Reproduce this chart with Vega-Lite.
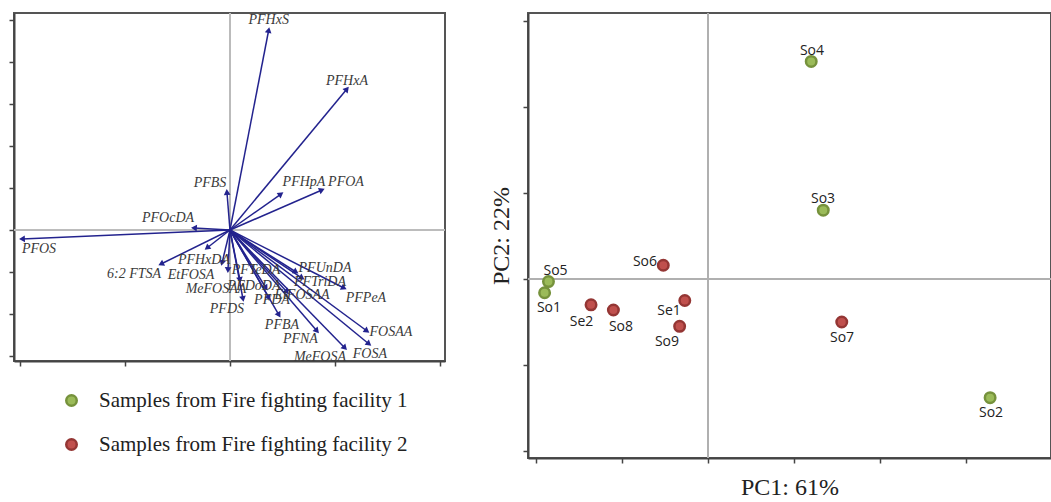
{
  "$schema": "https://vega.github.io/schema/vega-lite/v6.json",
  "background": "white",
  "padding": {"left": 7, "top": 11, "right": 0, "bottom": 0},
  "config": {
    "view": {"stroke": "#555555", "strokeWidth": 2},
    "concat": {"spacing": 41},
    "axis": {"grid": false, "labels": false, "domainColor": "#444444", "domainWidth": 2, "tickColor": "#444444", "tickWidth": 1.5, "tickSize": 5}
  },
  "datasets": {
    "loadings": [
      {"v": "PFHxS", "x": 0.369, "y": 4.762, "lx": 0.369, "ly": 5.0},
      {"v": "PFHxA", "x": 1.114, "y": 3.357, "lx": 1.114, "ly": 3.548},
      {"v": "PFOA", "x": 0.876, "y": 0.952, "lx": 1.105, "ly": 1.143},
      {"v": "PFHpA", "x": 0.486, "y": 0.857, "lx": 0.705, "ly": 1.143},
      {"v": "PFBS", "x": -0.029, "y": 0.905, "lx": -0.19, "ly": 1.119},
      {"v": "PFOcDA", "x": -0.343, "y": 0.048, "lx": -0.59, "ly": 0.286},
      {"v": "PFOS", "x": -1.981, "y": -0.214, "lx": -1.819, "ly": -0.452},
      {"v": "6:2 FTSA", "x": -0.657, "y": -0.81, "lx": -0.914, "ly": -1.048},
      {"v": "PFHxDA", "x": -0.076, "y": -0.786, "lx": -0.248, "ly": -0.714},
      {"v": "EtFOSA", "x": -0.219, "y": -0.429, "lx": -0.371, "ly": -1.071},
      {"v": "MeFOSAA", "x": -0.019, "y": -0.952, "lx": -0.133, "ly": -1.405},
      {"v": "PFTeDA", "x": 0.095, "y": -1.19, "lx": 0.248, "ly": -0.952},
      {"v": "PFDS", "x": 0.124, "y": -1.643, "lx": -0.029, "ly": -1.881},
      {"v": "PFDoDA", "x": 0.343, "y": -1.381, "lx": 0.229, "ly": -1.333},
      {"v": "PFDA", "x": 0.371, "y": -1.619, "lx": 0.4, "ly": -1.667},
      {"v": "EtFOSAA", "x": 0.543, "y": -1.476, "lx": 0.686, "ly": -1.548},
      {"v": "PFBA", "x": 0.467, "y": -2.024, "lx": 0.495, "ly": -2.262},
      {"v": "PFNA", "x": 0.829, "y": -2.405, "lx": 0.671, "ly": -2.595},
      {"v": "MeFOSA", "x": 1.095, "y": -2.81, "lx": 0.857, "ly": -3.024},
      {"v": "FOSA", "x": 1.324, "y": -2.714, "lx": 1.333, "ly": -2.952},
      {"v": "FOSAA", "x": 1.305, "y": -2.405, "lx": 1.533, "ly": -2.429},
      {"v": "PFPeA", "x": 1.086, "y": -1.381, "lx": 1.295, "ly": -1.619},
      {"v": "PFTriDA", "x": 0.686, "y": -1.143, "lx": 0.857, "ly": -1.238},
      {"v": "PFUnDA", "x": 0.629, "y": -1.0, "lx": 0.905, "ly": -0.905}
    ],
    "scores": [
      {"s": "So1", "x": -1.9, "y": -0.16, "lx": -1.849, "ly": -0.341, "g": "Samples from Fire fighting facility 1"},
      {"s": "So2", "x": 3.28, "y": -1.38, "lx": 3.291, "ly": -1.555, "g": "Samples from Fire fighting facility 1"},
      {"s": "So3", "x": 1.34, "y": 0.8, "lx": 1.337, "ly": 0.93, "g": "Samples from Fire fighting facility 1"},
      {"s": "So4", "x": 1.2, "y": 2.53, "lx": 1.209, "ly": 2.651, "g": "Samples from Fire fighting facility 1"},
      {"s": "So5", "x": -1.855, "y": -0.03, "lx": -1.773, "ly": 0.097, "g": "Samples from Fire fighting facility 1"},
      {"s": "Se1", "x": -0.27, "y": -0.25, "lx": -0.453, "ly": -0.368, "g": "Samples from Fire fighting facility 2"},
      {"s": "Se2", "x": -1.36, "y": -0.3, "lx": -1.471, "ly": -0.504, "g": "Samples from Fire fighting facility 2"},
      {"s": "So6", "x": -0.52, "y": 0.16, "lx": -0.733, "ly": 0.201, "g": "Samples from Fire fighting facility 2"},
      {"s": "So7", "x": 1.555, "y": -0.5, "lx": 1.558, "ly": -0.682, "g": "Samples from Fire fighting facility 2"},
      {"s": "So8", "x": -1.1, "y": -0.36, "lx": -1.012, "ly": -0.562, "g": "Samples from Fire fighting facility 2"},
      {"s": "So9", "x": -0.33, "y": -0.55, "lx": -0.477, "ly": -0.736, "g": "Samples from Fire fighting facility 2"}
    ]
  },
  "hconcat": [
    {
      "width": 431,
      "height": 348,
      "data": {"name": "loadings"},
      "layer": [
        {
          "mark": {"type": "rule", "color": "#bbbbbb", "strokeWidth": 1.2},
          "encoding": {"y": {"datum": 0, "type": "quantitative", "scale": {"domain": [-3.119, 5.167], "nice": false, "zero": false}, "axis": {"values": [-3, -2, -1, 0, 1, 2, 3, 4, 5], "title": null}}}
        },
        {
          "mark": {"type": "rule", "color": "#bbbbbb", "strokeWidth": 1.2},
          "encoding": {"x": {"datum": 0, "type": "quantitative", "scale": {"domain": [-2.057, 2.048], "nice": false, "zero": false}, "axis": {"values": [-2, -1, 0, 1, 2], "title": null}}}
        },
        {
          "mark": {"type": "rule", "color": "#23238e", "strokeWidth": 1.5},
          "encoding": {
            "x": {"field": "x", "type": "quantitative"},
            "y": {"field": "y", "type": "quantitative"},
            "x2": {"datum": 0},
            "y2": {"datum": 0}
          }
        },
        {
          "transform": [{"calculate": "atan2(datum.x * 105, datum.y * 42) * 180 / PI", "as": "ang"}],
          "mark": {"type": "point", "shape": "triangle-up", "filled": true, "color": "#23238e", "size": 45, "opacity": 1},
          "encoding": {
            "x": {"field": "x", "type": "quantitative"},
            "y": {"field": "y", "type": "quantitative"},
            "angle": {"field": "ang", "type": "quantitative", "scale": null}
          }
        },
        {
          "mark": {"type": "text", "font": "Liberation Serif", "fontStyle": "italic", "fontSize": 14, "color": "#3a3a3a", "align": "center", "baseline": "middle"},
          "encoding": {
            "x": {"field": "lx", "type": "quantitative"},
            "y": {"field": "ly", "type": "quantitative"},
            "text": {"field": "v"}
          }
        }
      ],
      "resolve": {"scale": {"x": "shared", "y": "shared"}}
    },
    {
      "width": 523,
      "height": 445,
      "data": {"name": "scores"},
      "layer": [
        {
          "mark": {"type": "rule", "color": "#b0b0b0", "strokeWidth": 1.2},
          "encoding": {"y": {"datum": 0, "type": "quantitative", "scale": {"domain": [-2.081, 3.093], "nice": false, "zero": false}, "axis": {"values": [-2, -1, 0, 1, 2, 3], "title": "PC2: 22%", "titleFont": "Liberation Serif", "titleFontSize": 24, "titleFontWeight": "normal", "titleColor": "#222222", "titlePadding": 9}}}
        },
        {
          "mark": {"type": "rule", "color": "#b0b0b0", "strokeWidth": 1.2},
          "encoding": {"x": {"datum": 0, "type": "quantitative", "scale": {"domain": [-2.093, 3.988], "nice": false, "zero": false}, "axis": {"values": [-2, -1, 0, 1, 2, 3], "title": "PC1: 61%", "titleFont": "Liberation Serif", "titleFontSize": 24, "titleFontWeight": "normal", "titleColor": "#222222", "titlePadding": 12}}}
        },
        {
          "mark": {"type": "point", "filled": true, "size": 110, "strokeWidth": 2.5, "opacity": 1},
          "encoding": {
            "x": {"field": "x", "type": "quantitative"},
            "y": {"field": "y", "type": "quantitative"},
            "fill": {"field": "g", "type": "nominal", "scale": {"domain": ["Samples from Fire fighting facility 1", "Samples from Fire fighting facility 2"], "range": ["#9bbb59", "#c0504d"]}, "legend": {"title": null, "orient": "none", "legendX": 47, "legendY": 377, "labelFont": "Liberation Serif", "labelFontSize": 21, "labelColor": "#222222", "labelLimit": 0, "symbolSize": 110, "symbolStrokeWidth": 2.5, "rowPadding": 22, "labelOffset": 17, "padding": 0}},
            "stroke": {"field": "g", "type": "nominal", "scale": {"domain": ["Samples from Fire fighting facility 1", "Samples from Fire fighting facility 2"], "range": ["#76923c", "#943634"]}, "legend": {"title": null, "orient": "none", "legendX": 47, "legendY": 377, "labelFont": "Liberation Serif", "labelFontSize": 21, "labelColor": "#222222", "labelLimit": 0, "symbolSize": 110, "symbolStrokeWidth": 2.5, "rowPadding": 22, "labelOffset": 17, "padding": 0}}
          }
        },
        {
          "mark": {"type": "text", "font": "Open Sans", "fontSize": 14, "color": "#222222", "align": "center", "baseline": "middle"},
          "encoding": {
            "x": {"field": "lx", "type": "quantitative"},
            "y": {"field": "ly", "type": "quantitative"},
            "text": {"field": "s"}
          }
        }
      ],
      "resolve": {"scale": {"x": "shared", "y": "shared"}}
    }
  ],
  "resolve": {"scale": {"x": "independent", "y": "independent"}}
}
